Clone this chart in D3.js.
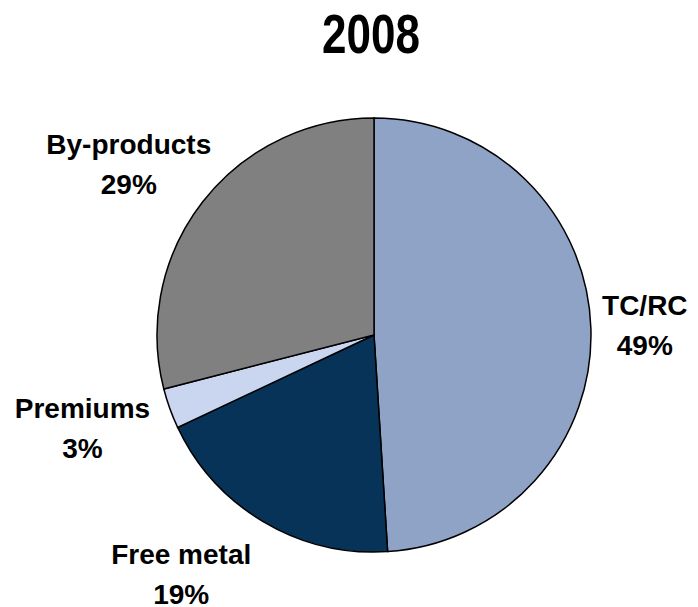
<!DOCTYPE html>
<html>
<head>
<meta charset="utf-8">
<script src="https://cdn.jsdelivr.net/npm/d3@7"></script>
<style>
  body { margin: 0; background: #fff; }
  text { font-family: "Liberation Sans", Arial, sans-serif; font-weight: bold; }
</style>
</head>
<body>
<svg id="chart" width="698" height="607"></svg>
<script>
// chart data
var title = "2008";
var categories = ["TC/RC", "Free metal", "Premiums", "By-products"];
var values = [49, 19, 3, 29];
var colors = ["#8ea3c6", "#063357", "#cad6ef", "#808080"];

// layout
var cx = 374, cy = 335, radius = 217;
var labelRadius = [271, 307, 306, 299];   // center -> middle of the label block
var labelShift = [-0.3, 8.3, 2.1, -2.9];  // degrees, nudge from the slice middle

var svg = d3.select("#chart");

svg.append("text")
  .attr("transform", "translate(371,53) scale(1,1.25)")
  .attr("text-anchor", "middle")
  .attr("font-size", "44px")
  .text(title);

var pie = d3.pie().sort(null).value(function (d) { return d; });
var arcs = pie(values);

var arc = d3.arc().innerRadius(0).outerRadius(radius);

var g = svg.append("g").attr("transform", "translate(" + cx + "," + cy + ")");

g.selectAll("path")
  .data(arcs)
  .enter().append("path")
  .attr("d", arc)
  .attr("fill", function (d, i) { return colors[i]; })
  .attr("stroke", "#000")
  .attr("stroke-width", 1.5);

// labels, two lines each
arcs.forEach(function (d, i) {
  var a = (d.startAngle + d.endAngle) / 2 + labelShift[i] * Math.PI / 180;
  var x = Math.sin(a) * labelRadius[i];
  var y = -Math.cos(a) * labelRadius[i];
  var t = g.append("text")
    .attr("text-anchor", "middle")
    .attr("font-size", "28px");
  t.append("tspan").attr("x", x).attr("y", y - 10).text(categories[i]);
  t.append("tspan").attr("x", x).attr("y", y + 30).text(values[i] + "%");
});
</script>
</body>
</html>
